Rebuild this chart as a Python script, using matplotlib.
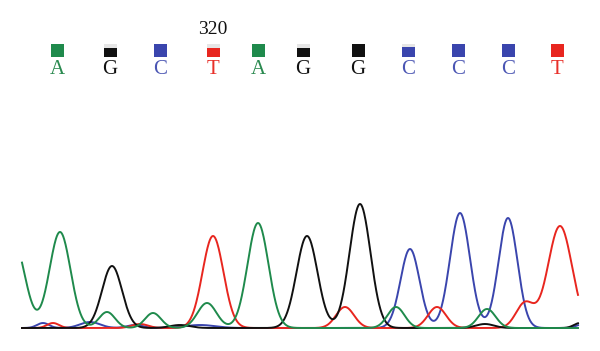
import numpy as np
import matplotlib.pyplot as plt
from matplotlib.patches import Rectangle

# base calls shown above the trace
bases = ['A', 'G', 'C', 'T', 'A', 'G', 'G', 'C', 'C', 'C', 'T']
base_x = [57, 110, 160, 213, 258, 303, 358, 408, 458, 508, 557]
# fraction of the quality box that is filled with colour
base_quality = [1.0, 0.7, 1.0, 0.72, 1.0, 0.7, 1.0, 0.75, 1.0, 1.0, 1.0]
position_label = '320'
position_x = 213

# chromatogram peaks per channel: (scan position, height, width)
peaks_A = [(14, 85, 11), (60, 96, 10.5), (107, 16, 8), (153, 15, 8), (207, 25, 9.5),
           (258, 105, 10.5), (396, 21, 8.5), (487, 19, 8.5)]
peaks_G = [(112, 62, 10), (180, 3, 10), (307, 92, 10.5), (360, 124, 10.5),
           (485, 4, 9), (580, 5, 6)]
peaks_C = [(43, 5, 6), (90, 6, 10), (135, 3, 8), (200, 3, 15), (410, 79, 9.5),
           (460, 115, 10), (508, 110, 9.5), (580, 3, 5)]
peaks_T = [(53, 5, 6), (140, 4, 8), (213, 92, 10.5), (345, 21, 9), (437, 21, 9),
           (525, 25, 9), (560, 102, 12)]

colors = {'A': '#1f8a4c', 'G': '#111111', 'C': '#3a45ad', 'T': '#e8261f'}
text_colors = {'A': '#2b8a50', 'G': '#111111', 'C': '#4a55b3', 'T': '#e8302a'}

BASELINE = 328
X0, X1 = 22, 578


def trace(xs, peaks):
    y = np.zeros_like(xs)
    for pos, h, w in peaks:
        y += h * np.exp(-(xs - pos) ** 2 / (2 * w ** 2))
    return y


fig = plt.figure(figsize=(6, 3.51), dpi=100)
ax = fig.add_axes([0, 0, 1, 1])
ax.set_xlim(0, 600)
ax.set_ylim(351, 0)
ax.axis('off')

xs = np.linspace(X0, X1, 1200)
for base, pk in [('C', peaks_C), ('T', peaks_T), ('G', peaks_G), ('A', peaks_A)]:
    ax.plot(xs, BASELINE - trace(xs, pk), color=colors[base], lw=1.4,
            solid_joinstyle='round')

for b, x, q in zip(bases, base_x, base_quality):
    top, bottom, size = 44, 57, 13
    ax.add_patch(Rectangle((x - size / 2, top), size, bottom - top,
                           facecolor='#e6e6e6', edgecolor='none'))
    h = (bottom - top) * q
    ax.add_patch(Rectangle((x - size / 2, bottom - h), size, h,
                           facecolor=colors[b], edgecolor='none'))
    ax.text(x, 70, b, color=text_colors[b], fontsize=15, family='Liberation Serif',
            ha='center', va='center')

ax.text(position_x, 29, position_label, color='#111111', fontsize=14,
        family='Liberation Serif', ha='center', va='center')

fig.savefig('out.png', dpi=100)
